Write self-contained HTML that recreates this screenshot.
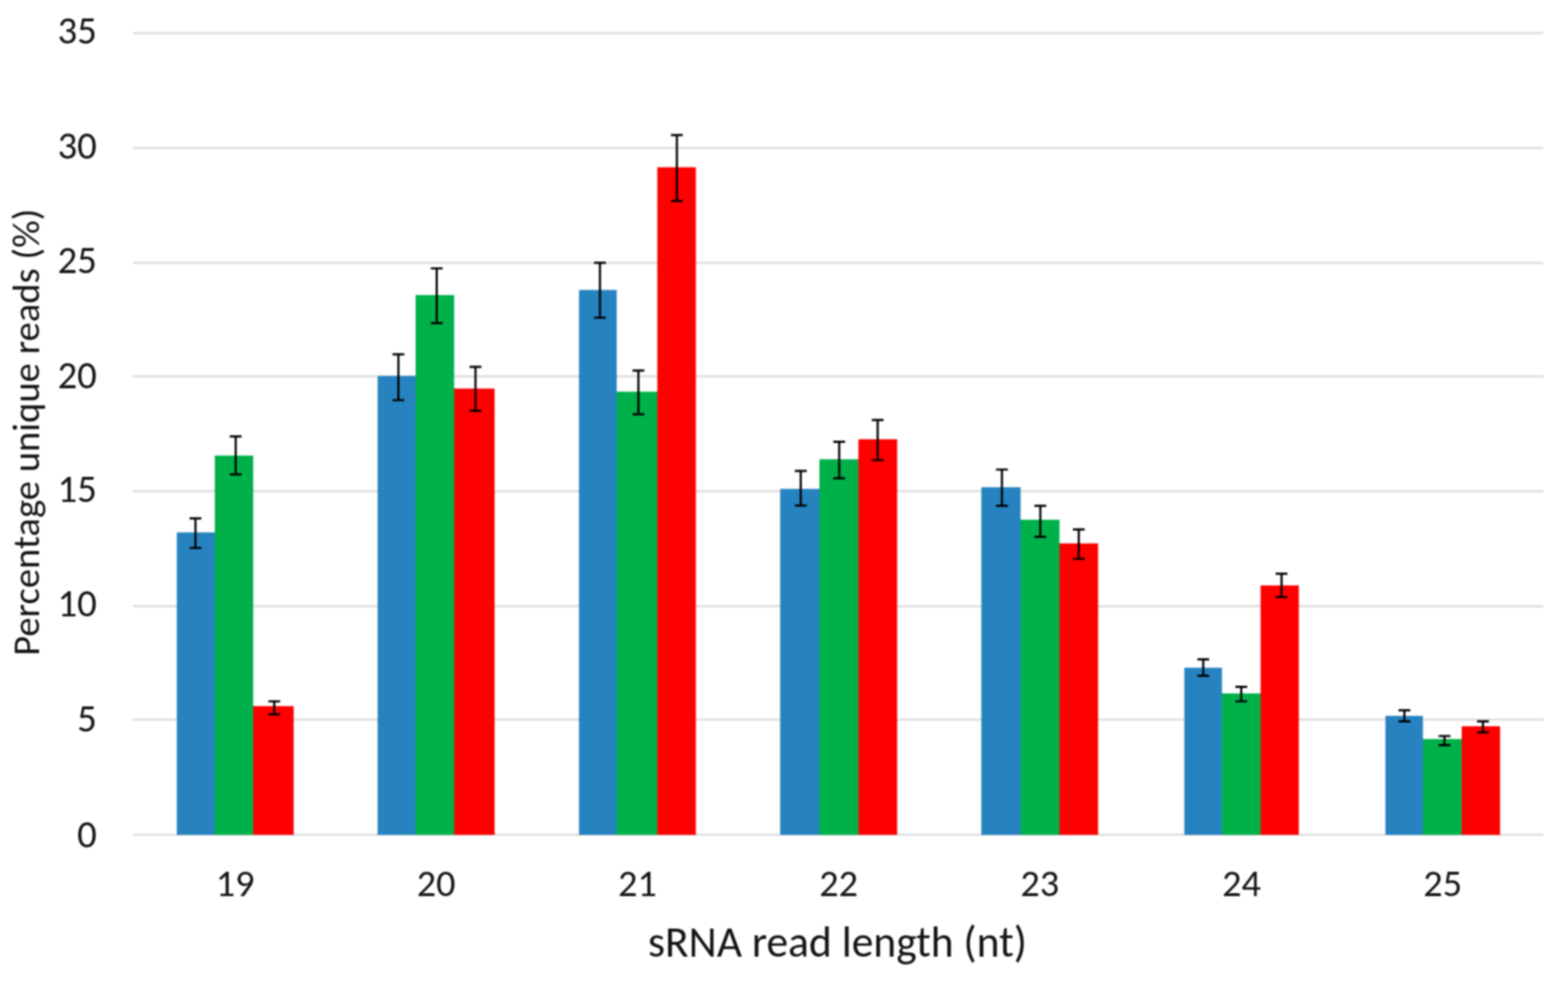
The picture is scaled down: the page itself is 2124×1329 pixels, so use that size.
<!DOCTYPE html><html><head><meta charset="utf-8"><title>sRNA read length chart</title><style>html,body{margin:0;padding:0;background:#fff;}svg{display:block;filter:blur(1px);}</style></head><body>
<svg width="2124" height="1329" viewBox="0 0 2124 1329">
<rect x="0" y="0" width="2124" height="1329" fill="#ffffff"/>
<rect x="180.0" y="1129.50" width="1910.7" height="2.8" fill="#dcdcdc"/>
<rect x="180.0" y="973.60" width="1910.7" height="2.8" fill="#dcdcdc"/>
<rect x="180.0" y="819.90" width="1910.7" height="2.8" fill="#dcdcdc"/>
<rect x="180.0" y="664.10" width="1910.7" height="2.8" fill="#dcdcdc"/>
<rect x="180.0" y="508.40" width="1910.7" height="2.8" fill="#dcdcdc"/>
<rect x="180.0" y="354.80" width="1910.7" height="2.8" fill="#dcdcdc"/>
<rect x="180.0" y="199.20" width="1910.7" height="2.8" fill="#dcdcdc"/>
<rect x="180.0" y="43.40" width="1910.7" height="2.8" fill="#dcdcdc"/>
<rect x="239.5" y="721.3" width="51.50" height="409.70" fill="#2683C0"/>
<rect x="290.50" y="721.3" width="1.5" height="409.70" fill="#2683C0"/>
<rect x="291.0" y="617.2" width="52.00" height="513.80" fill="#00B14A"/>
<rect x="342.50" y="956.6" width="1.5" height="174.40" fill="#00B14A"/>
<rect x="343.0" y="956.6" width="54.80" height="174.40" fill="#FF0000"/>
<rect x="511.5" y="509.3" width="51.50" height="621.70" fill="#2683C0"/>
<rect x="562.50" y="509.3" width="1.5" height="621.70" fill="#2683C0"/>
<rect x="563.0" y="399.7" width="52.20" height="731.30" fill="#00B14A"/>
<rect x="614.70" y="526.4" width="1.5" height="604.60" fill="#00B14A"/>
<rect x="615.2" y="526.4" width="54.80" height="604.60" fill="#FF0000"/>
<rect x="784.3" y="392.8" width="51.10" height="738.20" fill="#2683C0"/>
<rect x="834.90" y="530.6" width="1.5" height="600.40" fill="#2683C0"/>
<rect x="835.4" y="530.6" width="55.00" height="600.40" fill="#00B14A"/>
<rect x="889.90" y="530.6" width="1.5" height="600.40" fill="#00B14A"/>
<rect x="890.4" y="226.6" width="52.20" height="904.40" fill="#FF0000"/>
<rect x="1056.8" y="662.3" width="53.20" height="468.70" fill="#2683C0"/>
<rect x="1109.50" y="662.3" width="1.5" height="468.70" fill="#2683C0"/>
<rect x="1110.0" y="622.2" width="52.80" height="508.80" fill="#00B14A"/>
<rect x="1162.30" y="622.2" width="1.5" height="508.80" fill="#00B14A"/>
<rect x="1162.8" y="595.1" width="52.50" height="535.90" fill="#FF0000"/>
<rect x="1329.3" y="660.1" width="53.20" height="470.90" fill="#2683C0"/>
<rect x="1382.00" y="704.1" width="1.5" height="426.90" fill="#2683C0"/>
<rect x="1382.5" y="704.1" width="52.70" height="426.90" fill="#00B14A"/>
<rect x="1434.70" y="736.2" width="1.5" height="394.80" fill="#00B14A"/>
<rect x="1435.2" y="736.2" width="52.30" height="394.80" fill="#FF0000"/>
<rect x="1604.3" y="904.6" width="51.00" height="226.40" fill="#2683C0"/>
<rect x="1654.80" y="939.4" width="1.5" height="191.60" fill="#2683C0"/>
<rect x="1655.3" y="939.4" width="52.30" height="191.60" fill="#00B14A"/>
<rect x="1707.10" y="939.4" width="1.5" height="191.60" fill="#00B14A"/>
<rect x="1707.6" y="793.1" width="51.80" height="337.90" fill="#FF0000"/>
<rect x="1876.7" y="969.8" width="50.80" height="161.20" fill="#2683C0"/>
<rect x="1927.00" y="1001.2" width="1.5" height="129.80" fill="#2683C0"/>
<rect x="1927.5" y="1001.2" width="52.50" height="129.80" fill="#00B14A"/>
<rect x="1979.50" y="1001.2" width="1.5" height="129.80" fill="#00B14A"/>
<rect x="1980.0" y="983.9" width="52.00" height="147.10" fill="#FF0000"/>
<path d="M264.8 702.2V742.4M256.8 702.2H272.8M256.8 742.4H272.8" stroke="#000" stroke-width="2.9" fill="none"/>
<path d="M319.3 591.3V642.8M311.3 591.3H327.3M311.3 642.8H327.3" stroke="#000" stroke-width="2.9" fill="none"/>
<path d="M371.5 950.1V967.7M363.5 950.1H379.5M363.5 967.7H379.5" stroke="#000" stroke-width="2.9" fill="none"/>
<path d="M539.7 480.0V542.1M531.7 480.0H547.7M531.7 542.1H547.7" stroke="#000" stroke-width="2.9" fill="none"/>
<path d="M591.6 363.6V437.8M583.6 363.6H599.6M583.6 437.8H599.6" stroke="#000" stroke-width="2.9" fill="none"/>
<path d="M644.1 497.0V556.5M636.1 497.0H652.1M636.1 556.5H652.1" stroke="#000" stroke-width="2.9" fill="none"/>
<path d="M812.7 356.0V430.4M804.7 356.0H820.7M804.7 430.4H820.7" stroke="#000" stroke-width="2.9" fill="none"/>
<path d="M864.8 502.0V561.3M856.8 502.0H872.8M856.8 561.3H872.8" stroke="#000" stroke-width="2.9" fill="none"/>
<path d="M916.9 183.0V272.3M908.9 183.0H924.9M908.9 272.3H924.9" stroke="#000" stroke-width="2.9" fill="none"/>
<path d="M1084.7 638.0V684.9M1076.7 638.0H1092.7M1076.7 684.9H1092.7" stroke="#000" stroke-width="2.9" fill="none"/>
<path d="M1136.8 598.5V648.0M1128.8 598.5H1144.8M1128.8 648.0H1144.8" stroke="#000" stroke-width="2.9" fill="none"/>
<path d="M1188.9 569.0V623.4M1180.9 569.0H1196.9M1180.9 623.4H1196.9" stroke="#000" stroke-width="2.9" fill="none"/>
<path d="M1357.2 636.1V685.2M1349.2 636.1H1365.2M1349.2 685.2H1365.2" stroke="#000" stroke-width="2.9" fill="none"/>
<path d="M1409.2 685.2V727.2M1401.2 685.2H1417.2M1401.2 727.2H1417.2" stroke="#000" stroke-width="2.9" fill="none"/>
<path d="M1461.3 717.3V757.1M1453.3 717.3H1469.3M1453.3 757.1H1469.3" stroke="#000" stroke-width="2.9" fill="none"/>
<path d="M1629.9 893.2V915.5M1621.9 893.2H1637.9M1621.9 915.5H1637.9" stroke="#000" stroke-width="2.9" fill="none"/>
<path d="M1681.4 930.5V950.1M1673.4 930.5H1689.4M1673.4 950.1H1689.4" stroke="#000" stroke-width="2.9" fill="none"/>
<path d="M1736.0 777.3V808.9M1728.0 777.3H1744.0M1728.0 808.9H1744.0" stroke="#000" stroke-width="2.9" fill="none"/>
<path d="M1902.4 962.3V977.2M1894.4 962.3H1910.4M1894.4 977.2H1910.4" stroke="#000" stroke-width="2.9" fill="none"/>
<path d="M1956.7 997.1V1009.5M1948.7 997.1H1964.7M1948.7 1009.5H1964.7" stroke="#000" stroke-width="2.9" fill="none"/>
<path d="M2008.8 977.2V992.1M2000.8 977.2H2016.8M2000.8 992.1H2016.8" stroke="#000" stroke-width="2.9" fill="none"/>
<text x="131.2" y="1148.2" text-anchor="end" font-family="Carlito, &quot;Liberation Sans&quot;, &quot;DejaVu Sans&quot;, sans-serif" font-size="52.5" fill="#141414" textLength="26.61" lengthAdjust="spacingAndGlyphs">0</text>
<text x="131.2" y="991.2" text-anchor="end" font-family="Carlito, &quot;Liberation Sans&quot;, &quot;DejaVu Sans&quot;, sans-serif" font-size="52.5" fill="#141414" textLength="26.61" lengthAdjust="spacingAndGlyphs">5</text>
<text x="131.2" y="835.4" text-anchor="end" font-family="Carlito, &quot;Liberation Sans&quot;, &quot;DejaVu Sans&quot;, sans-serif" font-size="52.5" fill="#141414" textLength="53.22" lengthAdjust="spacingAndGlyphs">10</text>
<text x="131.2" y="679.6" text-anchor="end" font-family="Carlito, &quot;Liberation Sans&quot;, &quot;DejaVu Sans&quot;, sans-serif" font-size="52.5" fill="#141414" textLength="53.22" lengthAdjust="spacingAndGlyphs">15</text>
<text x="131.2" y="526.3" text-anchor="end" font-family="Carlito, &quot;Liberation Sans&quot;, &quot;DejaVu Sans&quot;, sans-serif" font-size="52.5" fill="#141414" textLength="53.22" lengthAdjust="spacingAndGlyphs">20</text>
<text x="131.2" y="370.3" text-anchor="end" font-family="Carlito, &quot;Liberation Sans&quot;, &quot;DejaVu Sans&quot;, sans-serif" font-size="52.5" fill="#141414" textLength="53.22" lengthAdjust="spacingAndGlyphs">25</text>
<text x="131.2" y="215.1" text-anchor="end" font-family="Carlito, &quot;Liberation Sans&quot;, &quot;DejaVu Sans&quot;, sans-serif" font-size="52.5" fill="#141414" textLength="53.22" lengthAdjust="spacingAndGlyphs">30</text>
<text x="131.2" y="59.2" text-anchor="end" font-family="Carlito, &quot;Liberation Sans&quot;, &quot;DejaVu Sans&quot;, sans-serif" font-size="52.5" fill="#141414" textLength="53.22" lengthAdjust="spacingAndGlyphs">35</text>
<text x="318.6" y="1213.6" text-anchor="middle" font-family="Carlito, &quot;Liberation Sans&quot;, &quot;DejaVu Sans&quot;, sans-serif" font-size="51.8" fill="#141414" textLength="52.52" lengthAdjust="spacingAndGlyphs">19</text>
<text x="590.8" y="1213.6" text-anchor="middle" font-family="Carlito, &quot;Liberation Sans&quot;, &quot;DejaVu Sans&quot;, sans-serif" font-size="51.8" fill="#141414" textLength="52.52" lengthAdjust="spacingAndGlyphs">20</text>
<text x="863.5" y="1213.6" text-anchor="middle" font-family="Carlito, &quot;Liberation Sans&quot;, &quot;DejaVu Sans&quot;, sans-serif" font-size="51.8" fill="#141414" textLength="52.52" lengthAdjust="spacingAndGlyphs">21</text>
<text x="1136.0" y="1213.6" text-anchor="middle" font-family="Carlito, &quot;Liberation Sans&quot;, &quot;DejaVu Sans&quot;, sans-serif" font-size="51.8" fill="#141414" textLength="52.52" lengthAdjust="spacingAndGlyphs">22</text>
<text x="1408.4" y="1213.6" text-anchor="middle" font-family="Carlito, &quot;Liberation Sans&quot;, &quot;DejaVu Sans&quot;, sans-serif" font-size="51.8" fill="#141414" textLength="52.52" lengthAdjust="spacingAndGlyphs">23</text>
<text x="1681.8" y="1213.6" text-anchor="middle" font-family="Carlito, &quot;Liberation Sans&quot;, &quot;DejaVu Sans&quot;, sans-serif" font-size="51.8" fill="#141414" textLength="52.52" lengthAdjust="spacingAndGlyphs">24</text>
<text x="1954.3" y="1213.6" text-anchor="middle" font-family="Carlito, &quot;Liberation Sans&quot;, &quot;DejaVu Sans&quot;, sans-serif" font-size="51.8" fill="#141414" textLength="52.52" lengthAdjust="spacingAndGlyphs">25</text>
<text x="1134.4" y="1295.6" text-anchor="middle" font-family="Carlito, &quot;Liberation Sans&quot;, &quot;DejaVu Sans&quot;, sans-serif" font-size="59" fill="#141414" textLength="513.30" lengthAdjust="spacingAndGlyphs">sRNA read length (nt)</text>
<text transform="translate(53.3 585.5) rotate(-90)" x="0" y="0" text-anchor="middle" font-family="Carlito, &quot;Liberation Sans&quot;, &quot;DejaVu Sans&quot;, sans-serif" font-size="52.3" fill="#141414" textLength="605.77" lengthAdjust="spacingAndGlyphs">Percentage unique reads (%)</text>
</svg></body></html>
